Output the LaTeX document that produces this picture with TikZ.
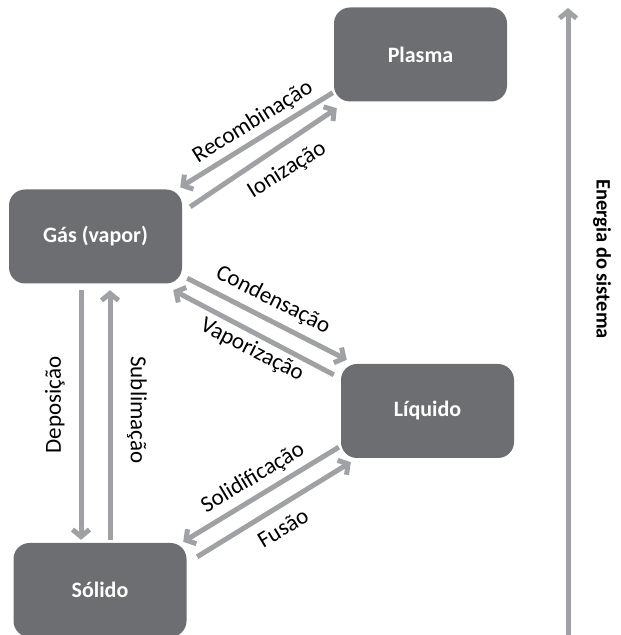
\documentclass[tikz,border=0pt]{standalone}
\usepackage{fontspec}
\setmainfont{Carlito}
\usetikzlibrary{arrows.meta,calc}
\definecolor{boxgray}{HTML}{6D6E71}
\definecolor{arrgray}{HTML}{A0A1A4}
\begin{document}
\begin{tikzpicture}[x=1pt,y=1pt,
  state/.style={rectangle, rounded corners=16pt, fill=boxgray, text=white,
    minimum width=173pt, minimum height=94pt, inner sep=0pt,
    font=\fontsize{22}{26}\selectfont\bfseries},
  conn/.style={draw=arrgray, line width=5pt,
    -{Straight Barb[length=7pt,width=17pt]}},
  lbl/.style={font=\fontsize{23}{27}\selectfont, text=black, inner sep=0pt}]
\useasboundingbox (0,0) rectangle (621,635);
% states
\node[state] (plasma) at (420.5,580.5) {Plasma};
\node[state] (gas) at (95.5,398.5) {Gás (vapor)};
\node[state] (liquid) at (427.5,224) {Líquido};
\node[state] (solid) at (100,45) {Sólido};
% plasma <-> gas
\draw[conn] ($(plasma.south west)+(-1,9)$) -- ($(gas.north east)+(-2,2)$);
\draw[conn] ($(gas.north east)+(8,-17.5)$) -- ($(plasma.south west)+(3,-6.5)$);
% gas <-> liquid
\draw[conn] ($(gas.south east)+(5,5.5)$) -- ($(liquid.north west)+(6,4)$);
\draw[conn] ($(liquid.north west)+(-7,-11)$) -- ($(gas.south east)+(-9,-6.5)$);
% liquid <-> solid
\draw[conn] ($(liquid.south west)+(-2,11)$) -- ($(solid.north east)+(-3.5,1)$);
\draw[conn] ($(solid.north east)+(10.5,-14)$) -- ($(liquid.south west)+(10,-4)$);
% gas <-> solid
\draw[conn] ($(gas.south)+(-14.5,-6.5)$) -- ($(solid.north)+(-19,3)$);
\draw[conn] ($(solid.north)+(10,3)$) -- ($(gas.south)+(14.5,-6.5)$);
% energy axis
\coordinate (ebottom) at (568,0);
\coordinate (etop) at (568,627);
\draw[conn] (ebottom) -- (etop);
% labels
\node[lbl, rotate=32] (lrec) at (253,513) {Recombinação};
\node[lbl, rotate=32] (lion) at (287,465) {Ionização};
\node[lbl, rotate=-27] (lcond) at (273,335) {Condensação};
\node[lbl, rotate=-27] (lvap) at (252,285) {Vaporização};
\node[lbl, rotate=31] (lsol) at (253,157) {Solidificação};
\node[lbl, rotate=31] (lfus) at (283,107) {Fusão};
\node[lbl, rotate=90] (ldep) at (55,230) {Deposição};
\node[lbl, rotate=-90] (lsub) at (137,225) {Sublimação};
\node[lbl, rotate=-90, font=\fontsize{20.5}{24}\selectfont\bfseries] (lene) at (602,376) {Energia do sistema};
\end{tikzpicture}
\end{document}
